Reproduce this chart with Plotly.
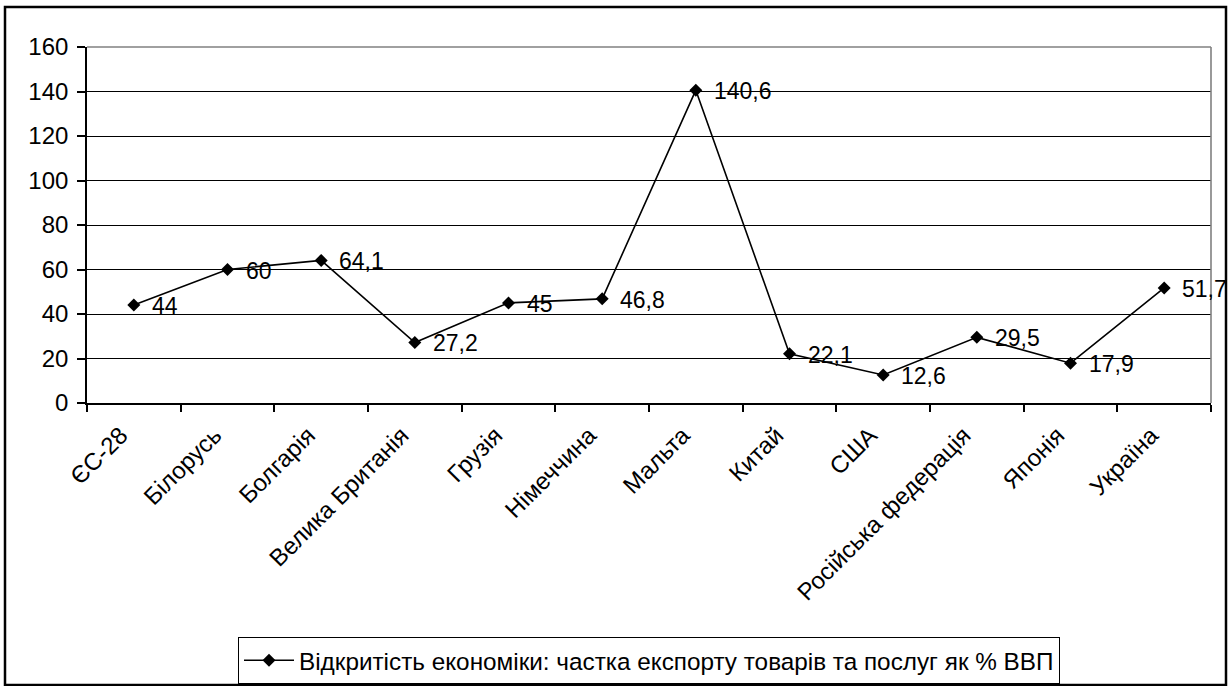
import plotly.graph_objects as go

categories = ["ЄС-28", "Білорусь", "Болгарія", "Велика Британія", "Грузія", "Німеччина",
              "Мальта", "Китай", "США", "Російська федерація", "Японія", "Україна"]
values = [44, 60, 64.1, 27.2, 45, 46.8, 140.6, 22.1, 12.6, 29.5, 17.9, 51.7]
series_name = "Відкритість економіки: частка експорту товарів та послуг як % ВВП"
y_ticks = [0, 20, 40, 60, 80, 100, 120, 140, 160]

labels = [("%g" % v).replace(".", ",") for v in values]

W, H = 1230, 686
L, R, T, B = 87, 1211, 47, 403

def px(x):
    return (x - L) / (R - L)

def py(y):
    return (B - y) / (B - T)

FONT = "Liberation Sans, Arial, sans-serif"
FS_TICK = 24
FS_LABEL = 23
FS_LEG = 24.3

fig = go.Figure()
fig.add_trace(go.Scatter(
    x=categories, y=values, mode="lines+markers",
    name=series_name,
    line=dict(color="black", width=1.6),
    marker=dict(symbol="diamond", size=10, color="black"),
    cliponaxis=False,
))

annotations = [
    dict(x=c, y=v, text=t, xref="x", yref="y", showarrow=False,
         xanchor="left", yanchor="middle", xshift=16, yshift=-1,
         font=dict(family=FONT, size=FS_LABEL, color="black"))
    for c, v, t in zip(categories, values, labels)
]

fig.update_layout(
    width=W, height=H,
    margin=dict(l=L, r=W - R, t=T, b=H - B, autoexpand=False),
    paper_bgcolor="white", plot_bgcolor="white",
    font=dict(family=FONT, size=FS_TICK, color="black"),
    showlegend=True,
    legend=dict(
        xref="paper", x=0.5, xanchor="center",
        yref="container", y=(H - 637) / H, yanchor="top",
        bordercolor="black", borderwidth=1, bgcolor="white",
        font=dict(family=FONT, size=FS_LEG, color="black"),
        itemwidth=50, tracegroupgap=0,
    ),
    xaxis=dict(
        type="category", showgrid=False, showline=True, linecolor="black", linewidth=1.6,
        ticks="outside", tickson="boundaries", ticklen=7, tickcolor="black", tickwidth=1.6,
        tickangle=-45, tickfont=dict(family=FONT, size=FS_TICK, color="black"),
        ticklabelshift=-13, ticklabelstandoff=7,
        range=[-0.5, len(categories) - 0.5], automargin=False,
    ),
    yaxis=dict(
        range=[0, 160], tickvals=y_ticks, showgrid=True, gridcolor="black", gridwidth=1,
        showline=True, linecolor="black", linewidth=1.6,
        ticks="outside", ticklen=8, tickcolor="black", tickwidth=1.6,
        tickfont=dict(family=FONT, size=FS_TICK, color="black"),
        ticklabelstandoff=4,
        zeroline=False, automargin=False,
    ),
    annotations=annotations,
    shapes=[
        dict(type="line", xref="paper", yref="paper", x0=0, x1=1, y0=1, y1=1,
             line=dict(color="#808080", width=1.6)),
        dict(type="line", xref="paper", yref="paper", x0=1, x1=1, y0=0, y1=1,
             line=dict(color="#808080", width=1.6)),
        dict(type="rect", xref="paper", yref="paper",
             x0=px(5), x1=px(1226), y0=py(685), y1=py(7),
             line=dict(color="black", width=2.5), layer="below"),
    ],
)

fig.write_html("out.html", config={"displayModeBar": False},
               post_script="document.body.style.margin='0';document.body.style.overflow='hidden';")
